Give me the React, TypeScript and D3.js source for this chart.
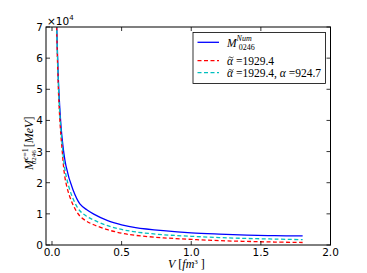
import React, { useRef, useEffect } from 'react';
import * as d3 from 'd3';

// volume grid [fm^3] and masses in units of 1e4 MeV
const volumes = [0.033, 0.05, 0.07, 0.1, 0.15, 0.2, 0.25, 0.3, 0.4, 0.5, 0.6, 0.8, 1.0, 1.2, 1.4, 1.6, 1.8];
const massNum = [7.2, 4.9, 3.55, 2.55, 1.78, 1.32, 1.13, 0.99, 0.78, 0.65, 0.56, 0.46, 0.39, 0.35, 0.32, 0.30, 0.29];
const massAlphaTilde = [7.0, 4.55, 3.2, 2.0, 1.3, 0.93, 0.76, 0.65, 0.49, 0.38, 0.31, 0.23, 0.18, 0.14, 0.115, 0.095, 0.08];
const massBoth = [7.1, 4.75, 3.4, 2.25, 1.5, 1.1, 0.92, 0.8, 0.62, 0.5, 0.42, 0.33, 0.28, 0.24, 0.21, 0.19, 0.17];

const xTicks = [0.0, 0.5, 1.0, 1.5, 2.0];
const yTicks = [0, 1, 2, 3, 4, 5, 6, 7];

const W = 367, H = 273;
const left = 46, right = 330.5, top = 27, bottom = 245;

const App = () => {
  const ref = useRef<SVGSVGElement>(null);

  useEffect(() => {
    const svg = d3.select(ref.current);
    svg.selectAll('*').remove();

    const x = d3.scaleLinear().domain([-0.043, 2.0]).range([left, right]);
    const y = d3.scaleLinear().domain([0, 7]).range([bottom, top]);

    svg.append('defs').append('clipPath').attr('id', 'plotclip')
      .append('rect').attr('x', left).attr('y', top)
      .attr('width', right - left).attr('height', bottom - top);

    const line = d3.line<number>()
      .x((d, i) => x(volumes[i]))
      .y(d => y(d))
      .curve(d3.curveCatmullRom.alpha(0.5));

    const series = [
      { vals: massNum, color: '#0000ff', dash: null },
      { vals: massAlphaTilde, color: '#ff0000', dash: '4,2.5' },
      { vals: massBoth, color: '#00bfbf', dash: '4,2.5' },
    ];

    const g = svg.append('g').attr('clip-path', 'url(#plotclip)');
    series.forEach(s => {
      g.append('path')
        .attr('d', line(s.vals))
        .attr('fill', 'none')
        .attr('stroke', s.color)
        .attr('stroke-width', 1.3)
        .attr('stroke-dasharray', s.dash);
    });

    // frame
    svg.append('rect')
      .attr('x', left).attr('y', top)
      .attr('width', right - left).attr('height', bottom - top)
      .attr('fill', 'none').attr('stroke', '#000').attr('stroke-width', 1);

    const tickFont = 'DejaVu Sans';
    // x ticks (inward, bottom and top)
    xTicks.forEach(t => {
      const px = x(t);
      svg.append('line').attr('x1', px).attr('x2', px).attr('y1', bottom).attr('y2', bottom - 4)
        .attr('stroke', '#000').attr('stroke-width', 0.8);
      svg.append('line').attr('x1', px).attr('x2', px).attr('y1', top).attr('y2', top + 4)
        .attr('stroke', '#000').attr('stroke-width', 0.8);
      svg.append('text').attr('x', px).attr('y', bottom + 10.5)
        .attr('text-anchor', 'middle').attr('font-family', tickFont).attr('font-size', 10.5)
        .text(t.toFixed(1));
    });

    yTicks.forEach(t => {
      const py = y(t);
      svg.append('line').attr('x1', left).attr('x2', left + 4).attr('y1', py).attr('y2', py)
        .attr('stroke', '#000').attr('stroke-width', 0.8);
      svg.append('line').attr('x1', right).attr('x2', right - 4).attr('y1', py).attr('y2', py)
        .attr('stroke', '#000').attr('stroke-width', 0.8);
      svg.append('text').attr('x', left - 3).attr('y', py + 4)
        .attr('text-anchor', 'end').attr('font-family', tickFont).attr('font-size', 10.5)
        .text(t);
    });

    // offset text x10^4
    const off = svg.append('text').attr('x', 47).attr('y', 25)
      .attr('font-family', tickFont).attr('font-size', 10.5);
    off.append('tspan').text('×10');
    off.append('tspan').attr('font-size', 7).attr('dy', -5).text('4');

    const serif = 'Liberation Serif';

    // x label
    const xl = svg.append('text').attr('x', 168).attr('y', 268)
      .attr('font-family', serif).attr('font-size', 12);
    xl.append('tspan').attr('font-style', 'italic').text('V');
    xl.append('tspan').text(' [');
    xl.append('tspan').attr('font-style', 'italic').text('fm');
    xl.append('tspan').attr('font-size', 7).attr('dy', -4).text('3');
    xl.append('tspan').attr('dy', 4).text(' ]');

    // y label
    const yl = svg.append('text')
      .attr('transform', 'translate(33,170) rotate(-90)')
      .attr('font-family', serif).attr('font-size', 12);
    yl.append('tspan').attr('font-style', 'italic').text('M');
    yl.append('tspan').attr('font-size', 8).attr('dy', -5).attr('font-style', 'italic').text('ϵ');
    yl.append('tspan').attr('font-size', 8).text('=1');
    yl.append('tspan').attr('font-size', 7).attr('dx', -16).attr('dy', 8).text('0246');
    yl.append('tspan').attr('dy', -3).text(' [');
    yl.append('tspan').attr('font-style', 'italic').text('MeV');
    yl.append('tspan').text(']');

    // legend
    svg.append('rect').attr('x', 193).attr('y', 32.5).attr('width', 132.5).attr('height', 51)
      .attr('fill', '#fff').attr('stroke', '#000').attr('stroke-width', 0.8);
    const rows = [42.3, 60.7, 72.7];
    series.forEach((s, i) => {
      svg.append('line').attr('x1', 197.5).attr('x2', 219).attr('y1', rows[i]).attr('y2', rows[i])
        .attr('stroke', s.color).attr('stroke-width', 1.3).attr('stroke-dasharray', s.dash);
    });

    const l1 = svg.append('text').attr('x', 227).attr('y', 46.5)
      .attr('font-family', serif).attr('font-size', 11.5);
    l1.append('tspan').attr('font-style', 'italic').text('M');
    l1.append('tspan').attr('font-size', 8).attr('dy', -6).attr('font-style', 'italic').text('Num');
    l1.append('tspan').attr('font-size', 8).attr('dx', -13).attr('dy', 9).text('0246');

    // tilde accent drawn as a small path above alpha
    const alphaTilde = (tx: number, ty: number, rest: string) => {
      const t = svg.append('text').attr('x', tx).attr('y', ty)
        .attr('font-family', serif).attr('font-size', 11.5);
      t.append('tspan').attr('font-style', 'italic').text('α');
      t.append('tspan').text(rest);
      const ax = tx + 1.5, ay = ty - 7.5;
      svg.append('path')
        .attr('d', `M${ax},${ay + 0.8} q1.2,-1.6 2.5,-0.4 q1.3,1.2 2.5,-0.4`)
        .attr('fill', 'none').attr('stroke', '#000').attr('stroke-width', 0.7);
      return t;
    };
    alphaTilde(227, 64.5, ' =1929.4');
    const t3 = alphaTilde(227, 77, ' =1929.4, ');
    t3.append('tspan').attr('font-style', 'italic').text('α');
    t3.append('tspan').text(' =924.7');
  }, []);

  return (
    <svg ref={ref} width={W} height={H}
      style={{ position: 'absolute', left: 0, top: 0, background: '#fff' }} />
  );
};

export default App;
